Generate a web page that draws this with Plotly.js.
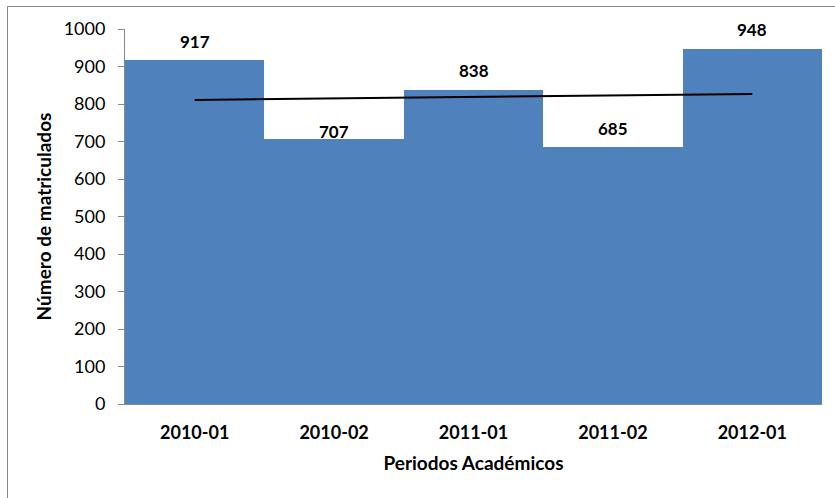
<!DOCTYPE html>
<html>
<head>
<meta charset="utf-8">
<script src="https://cdn.plot.ly/plotly-3.0.1.min.js"></script>
<style>
  html, body { margin: 0; padding: 0; overflow: hidden; background: #fff; }
  #chart { position: absolute; left: 0; top: 0; width: 835px; height: 498px; }
  #frame { position: absolute; left: 7px; top: 6px; width: 840px; height: 510px;
           border: 1px solid #888; pointer-events: none; z-index: 10; }
</style>
</head>
<body>
<div id="chart"></div>
<div id="frame"></div>
<script>
const periods = ["2010-01", "2010-02", "2011-01", "2011-02", "2012-01"];
const enrolled = [917, 707, 838, 685, 948];
const trendPeriods = ["2010-01", "2012-01"];
const trendValues = [811, 827];

const labelShift = [19, 7, 19, 19, 19];
const FONT = "Lato, 'Open Sans', sans-serif";

const data = [
  {
    type: "bar",
    x: periods,
    y: enrolled,
    marker: { color: "#4F81BD", line: { width: 0 } },
    hoverinfo: "x+y"
  },
  {
    type: "scatter",
    mode: "lines",
    x: trendPeriods,
    y: trendValues,
    line: { color: "#000", width: 2 },
    hoverinfo: "skip"
  }
];

const annotations = periods.map((p, i) => ({
  x: p, y: enrolled[i], xref: "x", yref: "y",
  text: String(enrolled[i]), showarrow: false,
  yanchor: "middle", yshift: labelShift[i],
  font: { family: FONT, size: 17, color: "#000", weight: "bold" }
}));

const layout = {
  width: 835, height: 498,
  margin: { l: 125, r: 13, t: 29, b: 94 },
  paper_bgcolor: "#fff", plot_bgcolor: "#fff",
  showlegend: false,
  bargap: 0,
  font: { family: FONT, color: "#000" },
  xaxis: {
    type: "category",
    showline: true, linecolor: "#888", linewidth: 1,
    ticks: "", showgrid: false, zeroline: false,
    ticklabelstandoff: 12,
    tickfont: { family: FONT, size: 18, color: "#000", weight: "bold" },
    title: { text: "Periodos Académicos", standoff: 15,
             font: { family: FONT, size: 19, color: "#000", weight: "bold" } }
  },
  yaxis: {
    range: [0, 1000], dtick: 100, tick0: 0,
    showline: true, linecolor: "#888", linewidth: 1,
    ticks: "outside", ticklen: 6, tickcolor: "#888",
    showgrid: false, zeroline: false,
    ticklabelstandoff: 9,
    tickfont: { family: FONT, size: 18, color: "#000" },
    title: { text: "Número de matriculados", standoff: 6,
             font: { family: FONT, size: 19, color: "#000", weight: "bold" } }
  },
  annotations: annotations
};

Plotly.newPlot("chart", data, layout, { displayModeBar: false, staticPlot: true });
</script>
</body>
</html>
